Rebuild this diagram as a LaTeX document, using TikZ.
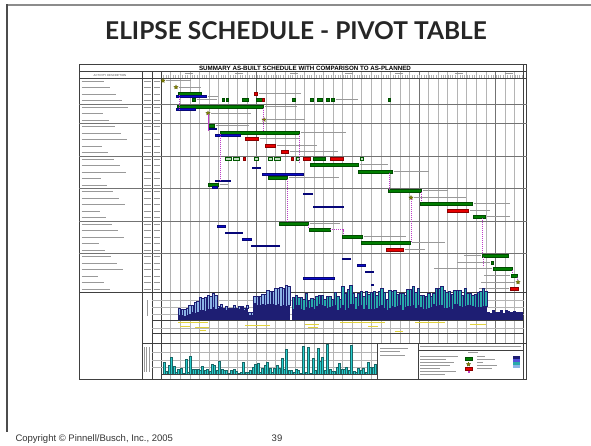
\documentclass[tikz,border=0pt]{standalone}
\usepackage{fontspec}
\setmainfont{Liberation Sans}
\newfontfamily\titlefont{Lato}
\usepackage{tikz}
\usetikzlibrary{positioning, shapes.geometric, calc}
\definecolor{SchedGreen}{RGB}{0, 125, 0}
\definecolor{SchedBlue}{RGB}{10, 10, 200}
\definecolor{SchedRed}{RGB}{230, 0, 0}
\definecolor{SchedLink}{RGB}{190, 60, 200}
\definecolor{SchedStar}{RGB}{130, 130, 0}
\definecolor{HistNavy}{RGB}{30, 30, 115}
\definecolor{HistLight}{RGB}{140, 180, 230}
\definecolor{HistTeal}{RGB}{40, 170, 170}
\definecolor{HistCyan}{RGB}{40, 205, 205}
\definecolor{HistYellow}{RGB}{225, 210, 60}
\definecolor{GridGray}{RGB}{180, 180, 180}

\newcommand{\actbar}[5]{\node[#5, minimum width={(#3-#2)*1pt}, anchor=west] (#1) at (#2,{78+6.5*#4-4.3}) {};}
\newcommand{\planbar}[4]{\node[plan, minimum width={(#3-#2)*1pt}, anchor=west] (#1) at (#2,{78+6.5*#4-1.4}) {};}
\newcommand{\mstone}[3]{\node[mile] (#1) at (#2,{78+6.5*#3-3.8}) {};}
\newcommand{\lbl}[2]{\draw[txt] ([xshift=1.5pt]#1.east) -- ++(#2,0);}
\newcommand{\lbll}[2]{\draw[txt] ([xshift=-1.5pt]#1.west) -- ++(-#2,0);}

\begin{document}
\begin{tikzpicture}[x=1pt, y=-1pt,
    act/.style={
        rectangle, draw=SchedGreen!60!black, fill=SchedGreen, line width=0.3pt,
        inner sep=0pt, outer sep=0pt, minimum height=3pt
    },
    late/.style={act, draw=SchedRed!60!black, fill=SchedRed},
    part/.style={act, draw=SchedGreen!70!black, fill=SchedGreen!25},
    plan/.style={
        rectangle, draw=SchedBlue!60!black, fill=SchedBlue, line width=0.3pt,
        inner sep=0pt, outer sep=0pt, minimum height=1.6pt
    },
    mile/.style={
        star, star points=5, star point ratio=2.2, draw=SchedStar!60!black,
        fill=SchedStar, line width=0.2pt, inner sep=0pt, minimum size=4.5pt
    },
    link/.style={draw=SchedLink, line width=0.6pt, dash pattern=on 1.2pt off 0.8pt},
    txt/.style={draw=black!40, line width=1pt},
    grid/.style={draw=GridGray, line width=0.3pt},
    major/.style={draw=black!55, line width=0.6pt},
    frame/.style={draw=black!75, line width=0.7pt},
    swatch/.style={rectangle, inner sep=0pt, outer sep=0pt, line width=0.3pt}
]

\useasboundingbox (0,0) rectangle (591,445);

\draw[draw=black!45, line width=2.5pt] (6,5) -- (591,5);
\draw[draw=black!70, line width=2pt] (7,4) -- (7,432);

\node[font=\titlefont\bfseries\fontsize{24.5}{24.5}\selectfont, text=black!85] (title) at (296,31)
    {ELIPSE SCHEDULE - PIVOT TABLE};

\node[anchor=base west, font=\fontsize{9.5}{9.5}\selectfont, text=black!80] (copyright) at (12,441)
    {Copyright © Pinnell/Busch, Inc., 2005};
\node[anchor=base, font=\fontsize{9.5}{9.5}\selectfont, text=black!80] (pagenum) at (277,441) {39};

\foreach \k in {1,...,37}{
    \pgfmathsetmacro{\gx}{161+9.55*\k}
    \pgfmathsetmacro{\gy}{\k<23 ? 379 : 343}
    \draw[grid] (\gx,71.5) -- (\gx,\gy);
}
\foreach \k in {10,27,35}
    \draw[major] ({161+9.55*\k},71.5) -- ({161+9.55*\k},343);
\foreach \k in {0,...,151}
    \draw[grid, line width=0.2pt] ({161+2.39*\k},75) -- ++(0,3);
\foreach \hx in {185,235,290,345,395,455,505}
    \draw[txt, line width=0.6pt] (\hx,73.3) -- ++(8,0);

\draw[frame] (79,64) rectangle (526.5,379);
\draw[frame] (523.5,64) -- (523.5,379);
\draw[frame] (79,71.5) -- (526.5,71.5);
\draw[frame, line width=0.5pt] (79,78) -- (526.5,78);
\foreach \cx in {142,152,161}
    \draw[frame, line width=0.5pt] (\cx,71.5) -- (\cx,379);
\foreach \gy in {104,123.5,156,188.5,221,253.5}
    \draw[major] (79,\gy) -- (526.5,\gy);
\draw[frame] (79,292) -- (526.5,292);
\draw[frame] (142,343) -- (526.5,343);
\foreach \gy in {300,307,314,328}
    \draw[grid] (152,\gy) -- (523.5,\gy);
\draw[frame, line width=0.5pt] (152,333) -- (523.5,333);
\foreach \gy in {352,360,367}
    \draw[grid] (152,\gy) -- (377,\gy);
\draw[frame] (377,343) -- (377,379);
\draw[frame] (418,343) -- (418,379);
\draw[frame, line width=0.4pt] (418,350) -- (523.5,350);

\node[font=\bfseries\fontsize{6.2}{6}\selectfont] (charttitle) at (305,68)
    {SUMMARY AS-BUILT SCHEDULE WITH COMPARISON TO AS-PLANNED};
\node[font=\fontsize{2.8}{3}\selectfont, text=black!70] (actdesc) at (110,75.3) {ACTIVITY DESCRIPTION};

\foreach \r in {1,...,33}{
    \pgfmathsetmacro{\len}{16+mod(\r*37,31)}
    \pgfmathsetmacro{\ry}{78+6.5*\r-3.25}
    \draw[txt] (81.5,\ry) -- ++(\len,0);
    \draw[txt] (143.5,\ry) -- (150.5,\ry);
    \draw[txt] (153.5,\ry) -- (159.5,\ry);
}

\mstone{m1}{163}{1}
\mstone{m2}{176}{2}
\actbar{g3}{178}{201}{3}{act}
\planbar{p3}{176}{206}{3}
\actbar{x3}{254}{257}{3}{late}
\foreach \a/\b [count=\n] in {192/195,222/224,226/228,242/248,256/262,292/295,310/313,317/322,326/329,331/334,388/390}{
    \actbar{q\n}{\a}{\b}{4}{act}
}
\actbar{qr}{262}{264}{4}{late}
\actbar{g5}{177}{263}{5}{act}
\planbar{p5}{176}{195}{5}
\mstone{m6}{208}{6}
\mstone{m7}{264}{7}
\actbar{g8}{208}{214}{8}{act}
\planbar{p8}{208}{216}{8}
\actbar{g9}{220}{299}{9}{act}
\planbar{p9}{215}{240}{9}
\actbar{x10}{245}{258}{10}{late}
\actbar{x11}{265}{275}{11}{late}
\actbar{x12}{281}{288}{12}{late}
\foreach \a/\b [count=\n] in {225/231,233/239,254/258,268/272,274/280,296/299,360/363}{
    \actbar{s\n}{\a}{\b}{13}{part}
}
\foreach \a/\b [count=\n] in {243/245,291/293,303/310,330/343}{
    \actbar{t\n}{\a}{\b}{13}{late}
}
\actbar{g13}{313}{325}{13}{act}
\actbar{g14}{310}{358}{14}{act}
\planbar{p14}{252}{260}{14}
\actbar{g15}{358}{392}{15}{act}
\planbar{p15}{262}{303}{15}
\actbar{g16}{268}{287}{16}{act}
\planbar{p16}{215}{230}{16}
\actbar{g17}{208}{218}{17}{act}
\planbar{p17}{212}{217}{17}
\actbar{g18}{388}{421}{18}{act}
\planbar{p18}{303}{312}{18}
\mstone{m19}{411}{19}
\actbar{g20}{420}{472}{20}{act}
\planbar{p20}{313}{343}{20}
\actbar{x21}{447}{468}{21}{late}
\actbar{g22}{473}{485}{22}{act}
\actbar{g23}{279}{308}{23}{act}
\planbar{p23}{217}{225}{23}
\actbar{g24}{309}{330}{24}{act}
\planbar{p24}{225}{242}{24}
\actbar{g25}{342}{362}{25}{act}
\planbar{p25}{242}{251}{25}
\actbar{g26}{361}{410}{26}{act}
\planbar{p26}{251}{279}{26}
\actbar{x27}{386}{403}{27}{late}
\actbar{g28}{482}{508}{28}{act}
\planbar{p28}{342}{350}{28}
\actbar{g29}{491}{493}{29}{act}
\planbar{p29}{357}{365}{29}
\actbar{g30}{493}{512}{30}{act}
\planbar{p30}{365}{373}{30}
\actbar{g31}{511}{517}{31}{act}
\planbar{p31}{303}{334}{31}
\mstone{m32}{518}{32}
\planbar{p32}{371}{373}{32}
\actbar{x33}{510}{518}{33}{late}

\lbl{m1}{25}
\lbl{m2}{22}
\lbl{p3}{10}
\lbl{x3}{42}
\lbl{q1}{20}
\lbl{q10}{22}
\lbl{g5}{32}
\lbl{m6}{40}
\lbl{m7}{38}
\lbl{g8}{33}
\lbl{g9}{45}
\lbl{x10}{40}
\lbl{x11}{40}
\lbl{x12}{48}
\lbl{g14}{28}
\lbl{g15}{35}
\lbl{g16}{50}
\lbl{g17}{8}
\lbl{g18}{25}
\lbl{m19}{52}
\lbl{g20}{36}
\lbl{x21}{20}
\lbl{g22}{23}
\lbl{g23}{30}
\lbl{g25}{42}
\lbl{g26}{33}
\lbl{x27}{20}
\lbll{g28}{17}
\lbll{g29}{33}
\lbll{g30}{58}
\lbll{g31}{26}
\lbll{m32}{34}
\lbll{x33}{30}

\draw[link] ([xshift=1pt]g3.south west) -- ([xshift=1pt]g3.south west |- p5.south);
\draw[link] (m6.south) -- (m6.south |- g9.north);
\draw[link] (g5.south east) -- (g5.south east |- g9.north);
\draw[link] (g9.south west) -- (g9.south west |- p16.north);
\draw[link] (g9.south east) -- (g9.south east |- g14.north);
\draw[link] (g16.south east) -- (g16.south east |- g23.north);
\draw[link] (g23.south east) -- (g23.south east |- g24.north);
\draw[link] (g24.east) -| ([xshift=1pt]g25.north west);
\draw[link] ([xshift=-3pt]g15.south east) -- ([xshift=-3pt]g15.south east |- g18.north);
\draw[link] (m19.south) -- (m19.south |- g26.north);
\draw[link] (g18.south east) -- (g18.south east |- g20.north);
\draw[link] ([xshift=-3pt]g22.south east) -- ([xshift=-3pt]g22.south east |- g28.north);
\draw[link] ([xshift=1pt]g28.south west) -- ([xshift=1pt]g28.south west |- g30.north);
\draw[link] (g30.south east) -- (g30.south east |- g31.north);
\draw[link] (g31.south east) -- (m32);

\pgfmathsetseed{11}
\foreach \i in {0,...,42}{
    \pgfmathsetmacro{\hx}{178+2.6*\i}
    \pgfmathsetmacro{\nb}{(\hx<217 ? 3+0.2*(\hx-178) : (\hx<247 ? 10 : (\hx<253 ? 3 : 14))) + 3*rnd}
    \pgfmathsetmacro{\tp}{(\hx<217 ? 3+0.3*(\hx-178) : (\hx<247 ? 1 : (\hx<253 ? 0 : 6+0.35*(\hx-253)))) + 4*rnd}
    \fill[HistNavy] (\hx,320) rectangle ++(2.5,-\nb);
    \filldraw[fill=HistLight, draw=HistNavy, line width=0.2pt] (\hx,{320-\nb}) rectangle ++(2.5,-\tp);
}
\foreach \i in {0,...,74}{
    \pgfmathsetmacro{\hx}{292+2.6*\i}
    \pgfmathsetmacro{\nb}{10+6*rnd}
    \pgfmathsetmacro{\tp}{(\hx<340 ? 7 : 11) + 8*rnd}
    \fill[HistNavy] (\hx,320) rectangle ++(2.5,-\nb);
    \filldraw[fill=HistTeal, draw=HistNavy, line width=0.2pt] (\hx,{320-\nb}) rectangle ++(2.5,-\tp);
}
\foreach \i in {0,...,13}{
    \pgfmathsetmacro{\hx}{487+2.6*\i}
    \pgfmathsetmacro{\nb}{7+4*rnd}
    \fill[HistNavy] (\hx,320) rectangle ++(2.5,-\nb);
}
\draw[frame, line width=0.5pt] (152,320) -- (523.5,320);
\foreach \hx/\hy/\hl in {178/322/30,180/326/10,195/327/14,200/330/6,245/325/25,305/324/14,308/327/10,340/322/45,368/326/10,415/322/30,470/324/16,395/331/8}
    \draw[draw=HistYellow, line width=0.8pt] (\hx,\hy) -- ++(\hl,0);

\foreach \i in {0,...,88}{
    \pgfmathsetmacro{\lx}{163+2.4*\i}
    \pgfmathsetmacro{\lh}{1+4*rnd+26*pow(rnd,4)}
    \filldraw[fill=HistCyan, draw=HistTeal!60!black, line width=0.2pt] (\lx,374) rectangle ++(2,-\lh);
}
\draw[frame, line width=0.5pt] (161,374) -- (377,374);

\draw[txt, line width=0.8pt] (147,300) -- (147,316);
\foreach \vx in {144,146.5,149}
    \draw[txt, line width=0.8pt] (\vx,347) -- (\vx,372);

\foreach \ty/\tl in {348/28,351.5/20,355/25}
    \draw[txt, line width=0.8pt] (380,\ty) -- ++(\tl,0);
\draw[txt, line width=0.8pt] (420,346.5) -- (521,346.5);
\foreach \ty/\tl in {356/38,359/26,362/34,365/30,368/20,371/36,374/25}
    \draw[txt, line width=0.7pt] (420,\ty) -- ++(\tl,0);
\foreach \ty/\tl in {356/8,359/18,362/6,365/20,368/15}
    \draw[txt, line width=0.7pt] (477,\ty) -- ++(\tl,0);
\draw[txt, line width=0.6pt] (468,352.5) -- (478,352.5);

\node[swatch, fill=SchedGreen, draw=SchedGreen!60!black, minimum width=7pt, minimum height=3.5pt] (keyact) at (468.5,358.5) {};
\node[mile, below=1.5pt of keyact] (keymile) {};
\node[swatch, fill=SchedRed, draw=SchedRed!60!black, minimum width=7pt, minimum height=3.5pt, below=1.5pt of keymile] (keylate) {};
\node[swatch, fill=SchedLink, minimum width=2pt, minimum height=2pt, below=1pt of keylate] (keylink) {};

\node[swatch, fill=HistNavy, minimum width=7pt, minimum height=3pt] (keynavy) at (516,357.5) {};
\node[swatch, fill=SchedBlue!70, minimum width=7pt, minimum height=3pt, below=0pt of keynavy] (keyblue) {};
\node[swatch, fill=HistTeal, minimum width=7pt, minimum height=3pt, below=0pt of keyblue] (keyteal) {};
\node[swatch, fill=HistLight, minimum width=7pt, minimum height=3pt, below=0pt of keyteal] (keylight) {};

\end{tikzpicture}
\end{document}
